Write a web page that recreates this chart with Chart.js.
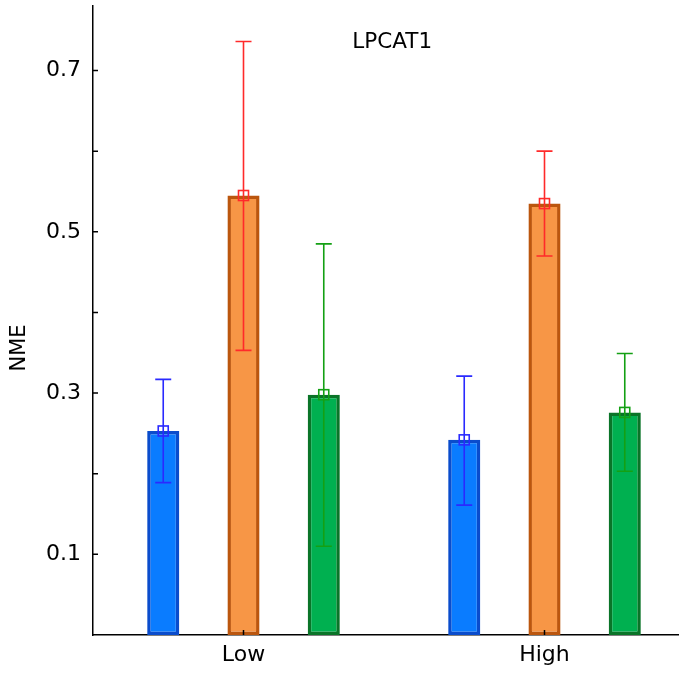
<!DOCTYPE html>
<html>
<head>
<meta charset="utf-8">
<script src="https://cdn.jsdelivr.net/npm/chart.js@4.4.1/dist/chart.umd.min.js"></script>
<style>
  html, body { margin: 0; padding: 0; background: #fff; overflow: hidden; }
  #wrap { width: 700px; height: 677px; }
</style>
</head>
<body>
<div id="wrap"><canvas id="c" width="700" height="677"></canvas></div>
<script>
const groups = ["Low", "High"];
const seriesA = [0.253, 0.242];
const seriesB = [0.545, 0.535];
const seriesC = [0.298, 0.276];
const errLowA = [0.189, 0.161];
const errHighA = [0.317, 0.321];
const errLowB = [0.353, 0.470];
const errHighB = [0.736, 0.600];
const errLowC = [0.110, 0.203];
const errHighC = [0.485, 0.349];
const yTicks = [0.1, 0.2, 0.3, 0.4, 0.5, 0.6, 0.7];
const yTickLabels = ["0.1", "0.3", "0.5", "0.7"];

const fills = ["#0a7cff", "#f79646", "#00b050"];
const borders = ["#0a4ccc", "#bb560e", "#0a7428"];
const errColors = ["#2a2aff", "#ff2a2a", "#14a014"];
const lows = [errLowA, errLowB, errLowC];
const highs = [errHighA, errHighB, errHighC];

const font = "'DejaVu Sans', sans-serif";

// error bars, mean markers, inside ticks, title and y title
const extras = {
  id: "extras",
  afterDatasetsDraw(chart) {
    const ctx = chart.ctx;
    const y = chart.scales.y, x = chart.scales.x;
    const area = chart.chartArea;
    ctx.save();
    chart.data.datasets.forEach((ds, di) => {
      const meta = chart.getDatasetMeta(di);
      meta.data.forEach((bar, i) => {
        const yl = y.getPixelForValue(lows[di][i]);
        const yh = y.getPixelForValue(highs[di][i]);
        const ym = y.getPixelForValue(ds.data[i]);
        ctx.strokeStyle = errColors[di];
        ctx.lineWidth = 1.6;
        ctx.beginPath();
        ctx.moveTo(bar.x, yl); ctx.lineTo(bar.x, yh);
        ctx.moveTo(bar.x - 8, yl); ctx.lineTo(bar.x + 8, yl);
        ctx.moveTo(bar.x - 8, yh); ctx.lineTo(bar.x + 8, yh);
        ctx.stroke();
        ctx.strokeRect(bar.x - 5, ym - 5, 10, 10);
      });
    });
    ctx.strokeStyle = "#000";
    ctx.lineWidth = 1.5;
    ctx.beginPath();
    yTicks.forEach(v => {
      const p = y.getPixelForValue(v);
      ctx.moveTo(area.left, p); ctx.lineTo(area.left + 5, p);
    });
    groups.forEach((g, i) => {
      const p = x.getPixelForValue(i);
      ctx.moveTo(p, area.bottom); ctx.lineTo(p, area.bottom - 5);
    });
    ctx.stroke();
    ctx.fillStyle = "#000";
    ctx.font = "21.5px " + font;
    ctx.textAlign = "center";
    ctx.textBaseline = "middle";
    ctx.fillText("LPCAT1", area.left + area.width * 0.497, 42);
    ctx.translate(20, 348);
    ctx.rotate(-Math.PI / 2);
    ctx.font = "21px " + font;
    ctx.fillText("NME", 0, 0);
    ctx.restore();
  }
};

new Chart(document.getElementById("c"), {
  type: "bar",
  data: {
    labels: groups,
    datasets: [seriesA, seriesB, seriesC].map((d, i) => ({
      label: "s" + i,
      data: d,
      backgroundColor: fills[i],
      borderColor: borders[i],
      borderWidth: 3.5,
      borderSkipped: false,
      categoryPercentage: 0.8,
      barPercentage: 0.4
    }))
  },
  options: {
    responsive: false,
    animation: false,
    layout: { padding: { top: 6, right: 5, left: 0, bottom: 0 } },
    plugins: { legend: { display: false }, tooltip: { enabled: false } },
    scales: {
      x: {
        grid: { display: false, tickLength: 0 },
        border: { display: true, color: "#000", width: 1.5 },
        ticks: { color: "#000", font: { size: 22, family: font }, padding: 7 },
        afterFit(s) { s.height = 42; s.paddingLeft = 0; s.paddingRight = 0; }
      },
      y: {
        min: 0,
        max: 0.78,
        grid: { display: false, tickLength: 0 },
        border: { display: true, color: "#000", width: 1.5 },
        afterBuildTicks(s) { s.ticks = yTickLabels.map(t => ({ value: parseFloat(t) })); },
        ticks: {
          color: "#000",
          font: { size: 22, family: font },
          padding: 12,
          callback: v => v.toFixed(1)
        },
        afterFit(s) { s.width = 93; s.paddingTop = 0; s.paddingBottom = 0; }
      }
    }
  },
  plugins: [extras]
});
</script>
</body>
</html>
